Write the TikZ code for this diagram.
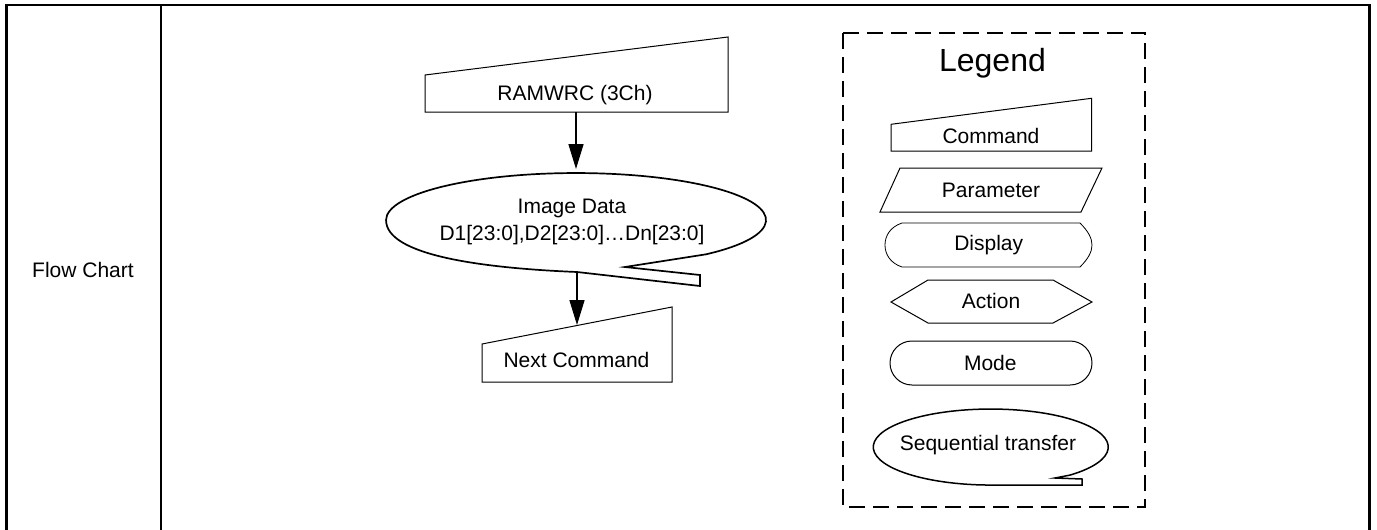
\documentclass[tikz,border=0pt]{standalone}
\usepackage{fontspec}
\setmainfont{Liberation Sans}
\usetikzlibrary{arrows.meta}
\begin{document}
\begin{tikzpicture}[x=1pt,y=-1pt,
  shp/.style={draw=black,line width=1pt,fill=white,line join=miter},
  thick shp/.style={shp,line width=1.7pt},
  lbl/.style={inner sep=0pt,anchor=base,align=center,font=\fontsize{21}{26.7}\selectfont},
  arr/.style={line width=1.5pt,-{Triangle[length=25pt,width=15pt]}},
  frameline/.style={line width=2.3pt}]
\useasboundingbox (0,0) rectangle (1377,530);
% table frame
\draw[frameline] (6.6,530) -- (6.6,5) -- (1369.5,5) -- (1369.5,530);
\draw[line width=2pt] (161,5) -- (161,530);
\node[lbl] (fc) at (83,277) {Flow Chart};
% flow chart
\draw[shp] (425,75) -- (728,37) -- (728,112) -- (425,112) -- cycle;
\node[lbl] (ram) at (575,100) {RAMWRC (3Ch)};
\draw[thick shp] (625,267) -- (706.1,254.3)
  arc[start angle=46.8,end angle=-180,x radius=190,y radius=47]
  .. controls (386,255) and (480,268) .. (577,272) -- (700,286) -- (700,275) -- cycle;
\node[lbl] (img) at (572,240) {Image Data\\D1[23:0],D2[23:0]…Dn[23:0]};
\draw[shp] (482,344) -- (672,307) -- (672,382) -- (482,382) -- cycle;
\node[lbl] (next) at (576.5,367) {Next Command};
\coordinate (ramS) at (576,112);
\coordinate (imgN) at (576,169);
\coordinate (imgS) at (577,272);
\coordinate (nextN) at (577,325);
\draw[arr] (ramS) -- (imgN);
\draw[arr] (imgS) -- (nextN);
% legend
\draw[line width=1.8pt,dash pattern=on 16pt off 8pt] (843,33) rectangle (1145,507);
\node[inner sep=0pt,anchor=base,font=\fontsize{32}{38}\selectfont] (leg) at (992.5,71.7) {Legend};
\draw[shp] (891,124.3) -- (1091.5,98.3) -- (1091.5,151) -- (891,151) -- cycle;
\node[lbl] (cmd) at (991,143.3) {Command};
\draw[shp] (900,168) -- (1102,168) -- (1081,212) -- (880,212) -- cycle;
\node[lbl] (par) at (991,197) {Parameter};
\draw[shp,line width=0.8pt] (902,223) -- (1080,223)
  .. controls (1088,231) and (1092,238) .. (1092,245)
  .. controls (1092,252) and (1088,259) .. (1080,267) -- (902,267)
  .. controls (890,263) and (885,254) .. (885,245)
  .. controls (885,236) and (890,227) .. (902,223) -- cycle;
\node[lbl] (dsp) at (988.7,250.7) {Display};
\draw[shp] (891,302) -- (928,280) -- (1053,280) -- (1092,302) -- (1053,323) -- (928,323) -- cycle;
\node[lbl] (act) at (991,308.3) {Action};
\draw[shp,rounded corners=22pt] (890,341) rectangle (1092,385);
\node[lbl] (mode) at (990.3,370) {Mode};
\draw[shp,line width=1.5pt] (1055,478) -- (1070,475.1)
  arc[start angle=47.6,end angle=-270,x radius=117.5,y radius=38]
  -- (1082,485) -- (1082,479) -- cycle;
\node[lbl] (seq) at (988,450.7) {Sequential transfer};
\end{tikzpicture}
\end{document}
